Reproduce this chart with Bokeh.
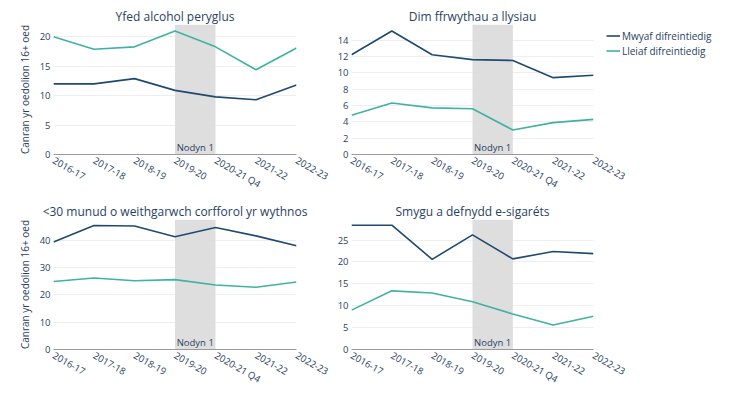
from bokeh.plotting import figure
from bokeh.layouts import column, row
from bokeh.models import Range1d, FixedTicker, BoxAnnotation, Label, Legend, LegendItem
from bokeh.embed import file_html
from bokeh.resources import INLINE

periods = ["2016-17", "2017-18", "2018-19", "2019-20", "2020-21 Q4", "2021-22", "2022-23"]
series_names = ["Mwyaf difreintiedig", "Lleiaf difreintiedig"]
note_start = "2019-20"
note_end = "2020-21 Q4"
note_text = "Nodyn 1"
y_label = "Canran yr oedolion 16+ oed"

titles = ["Yfed alcohol peryglus", "Dim ffrwythau a llysiau",
          "<30 munud o weithgarwch corfforol yr wythnos", "Smygu a defnydd e-sigaréts"]

alcohol_most = [12.0, 12.0, 12.9, 10.9, 9.8, 9.3, 11.8]
alcohol_least = [20.0, 17.9, 18.3, 21.0, 18.3, 14.4, 18.1]
fruitveg_most = [12.2, 15.1, 12.2, 11.6, 11.5, 9.4, 9.7]
fruitveg_least = [4.8, 6.3, 5.7, 5.6, 3.0, 3.9, 4.3]
activity_most = [39.4, 45.4, 45.2, 41.3, 44.7, 41.6, 38.0]
activity_least = [24.9, 26.2, 25.2, 25.6, 23.6, 22.8, 24.7]
smoking_most = [28.4, 28.4, 20.6, 26.2, 20.7, 22.4, 21.9]
smoking_least = [9.0, 13.4, 12.9, 10.9, 8.1, 5.6, 7.6]

alcohol_ticks = [0, 5, 10, 15, 20]
fruitveg_ticks = [0, 2, 4, 6, 8, 10, 12, 14]
activity_ticks = [0, 10, 20, 30, 40]
smoking_ticks = [0, 5, 10, 15, 20, 25]

DARK = "#1f4a70"
GREEN = "#3fb3a2"
TEXT = "#2a3f5f"
FONT = "Open Sans"

x_idx = list(range(len(periods)))


def panel(title, most, least, ticks, ymax, show_ylabel, mb, fw):
    left, right, top, bottom = mb
    p = figure(frame_width=fw, frame_height=130, output_backend="svg", toolbar_location=None,
               x_range=Range1d(0, len(periods) - 1), y_range=Range1d(0, ymax),
               min_border_left=left, min_border_right=right, min_border_top=top,
               min_border_bottom=bottom)
    p.title.text = title
    p.title.align = "center"
    p.title.text_font = FONT
    p.title.text_font_size = "12px"
    p.title.text_font_style = "normal"
    p.title.text_color = TEXT
    p.title.standoff = 0
    p.outline_line_color = None
    p.background_fill_color = "white"
    p.border_fill_color = "white"

    shade = BoxAnnotation(left=periods.index(note_start), right=periods.index(note_end),
                          fill_color="#dadada", fill_alpha=0.9, line_color=None, level="underlay")
    p.add_layout(shade)

    r1 = p.line(x_idx, most, line_color=DARK, line_width=1.6)
    r2 = p.line(x_idx, least, line_color=GREEN, line_width=1.6)

    p.add_layout(Label(x=(periods.index(note_start) + periods.index(note_end)) / 2, y=0,
                       text=note_text, text_align="center", text_baseline="bottom",
                       y_offset=1, text_font=FONT, text_font_size="9.5px", text_color=TEXT))

    xa = p.xaxis[0]
    xa.ticker = FixedTicker(ticks=x_idx)
    xa.major_label_overrides = {i: s for i, s in enumerate(periods)}
    xa.major_label_orientation = -0.52
    xa.major_tick_line_color = None
    xa.minor_tick_line_color = None
    xa.major_tick_out = 0
    xa.major_tick_in = 0
    xa.minor_tick_out = 0
    xa.minor_tick_in = 0
    xa.axis_line_color = "#9a9a9a"
    xa.axis_line_width = 1
    xa.major_label_text_font = FONT
    xa.major_label_text_font_size = "9.5px"
    xa.major_label_text_color = TEXT
    xa.major_label_standoff = 5

    ya = p.yaxis[0]
    ya.ticker = FixedTicker(ticks=ticks)
    ya.major_tick_line_color = None
    ya.minor_tick_line_color = None
    ya.major_tick_out = 0
    ya.major_tick_in = 0
    ya.minor_tick_out = 0
    ya.minor_tick_in = 0
    ya.axis_line_color = None
    ya.major_label_text_font = FONT
    ya.major_label_text_font_size = "9.5px"
    ya.major_label_text_color = TEXT
    ya.major_label_standoff = 3
    if show_ylabel:
        ya.axis_label = y_label
        ya.axis_label_text_font = FONT
        ya.axis_label_text_font_size = "10px"
        ya.axis_label_text_font_style = "normal"
        ya.axis_label_text_color = TEXT
        ya.axis_label_standoff = 5

    p.xgrid.grid_line_color = None
    p.ygrid.grid_line_color = "#eeeeee"
    p.ygrid.grid_line_width = 1
    return p, r1, r2


p1, _, _ = panel(titles[0], alcohol_most, alcohol_least, alcohol_ticks, 22.1, True, (53, 37, 24, 44), 243)
p2, a, b = panel(titles[1], fruitveg_most, fruitveg_least, fruitveg_ticks, 15.9, False, (18, 10, 24, 44), 242)
p3, _, _ = panel(titles[2], activity_most, activity_least, activity_ticks, 47.6, True, (53, 37, 20, 40), 243)
p4, _, _ = panel(titles[3], smoking_most, smoking_least, smoking_ticks, 29.7, False, (18, 135, 20, 40), 242)

legend = Legend(items=[LegendItem(label=series_names[0], renderers=[a]),
                       LegendItem(label=series_names[1], renderers=[b])],
                location=(13, 96), orientation="vertical",
                label_text_font=FONT, label_text_font_size="10px", label_text_color=TEXT,
                glyph_width=14, glyph_height=15, label_height=15, label_standoff=2,
                spacing=0, padding=0, margin=0,
                border_line_color=None, background_fill_alpha=0)
p2.add_layout(legend, "right")
p2.min_border_right = 135

layout = column(row(p1, p2), row(p3, p4), spacing=0)
open("out.html", "w").write(file_html(layout, INLINE))
